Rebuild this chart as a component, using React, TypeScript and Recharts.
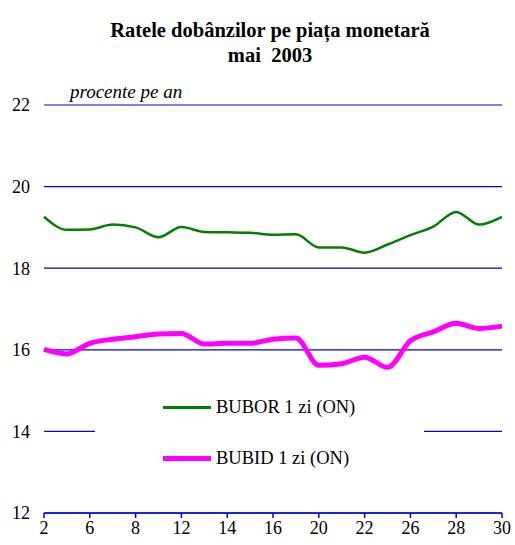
import { CartesianGrid, Line, LineChart, XAxis, YAxis } from "recharts";

// business days of May 2003
const days = [2, 5, 6, 7, 8, 9, 12, 13, 14, 15, 16, 19, 20, 21, 22, 23, 26, 27, 28, 29, 30];

const bubor = [
  19.26, 18.94, 18.95, 19.07, 19.0, 18.76, 19.01, 18.89, 18.88, 18.87, 18.82,
  18.83, 18.51, 18.51, 18.38, 18.58, 18.81, 19.02, 19.38, 19.07, 19.26,
];

const bubid = [
  16.01, 15.9, 16.16, 16.26, 16.32, 16.39, 16.4, 16.14, 16.16, 16.16, 16.26,
  16.29, 15.62, 15.66, 15.82, 15.57, 16.22, 16.44, 16.65, 16.52, 16.58,
];

const yTicks = [12, 14, 16, 18, 20, 22];

const data = days.map((day, i) => ({ day, bubor: bubor[i], bubid: bubid[i] }));

const serif = "Liberation Serif, DejaVu Serif, serif";
const tickStyle = { fontSize: 18, fill: "#000", fontFamily: serif };

export default function App() {
  return (
    <div style={{ position: "absolute", left: 0, top: 0, width: 515, height: 545, background: "#fff", fontFamily: serif }}>
      <div style={{ position: "absolute", left: 0, width: 540, top: 18, textAlign: "center", fontWeight: "bold", fontSize: 20.5, lineHeight: "25px" }}>
        Ratele dobânzilor pe piața monetară
        <br />
        mai&nbsp; 2003
      </div>
      <div style={{ position: "absolute", left: 70, top: 81, fontStyle: "italic", fontSize: 19 }}>procente pe an</div>

      <LineChart width={515} height={545} data={data} margin={{ top: 105, right: 13, bottom: 0, left: 0 }}>
        <CartesianGrid horizontal vertical={false} stroke="#0000ee" strokeWidth={1.2} />
        <XAxis
          dataKey="day"
          interval={1}
          height={32}
          tick={tickStyle}
          tickSize={5}
          tickMargin={3}
          axisLine={{ stroke: "#0000ee", strokeWidth: 1.5 }}
          tickLine={{ stroke: "#0000ee", strokeWidth: 1.5 }}
        />
        <YAxis
          domain={[12, 22]}
          ticks={yTicks}
          width={44}
          tick={tickStyle}
          axisLine={false}
          tickLine={false}
          tickSize={0}
          tickMargin={14}
        />
        <Line type="monotone" dataKey="bubor" stroke="#008000" strokeWidth={2.5} dot={false} isAnimationActive={false} />
        <Line type="monotone" dataKey="bubid" stroke="#ff00ff" strokeWidth={5} dot={false} isAnimationActive={false} />
      </LineChart>

      <div style={{ position: "absolute", left: 95, top: 386, width: 329, height: 96, background: "#fff" }}>
        <div style={{ position: "absolute", left: 68, top: 11, display: "flex", alignItems: "center", fontSize: 18.5 }}>
          <span style={{ display: "inline-block", width: 48, height: 3, background: "#008000", marginRight: 5 }} />
          BUBOR 1 zi (ON)
        </div>
        <div style={{ position: "absolute", left: 68, top: 62, display: "flex", alignItems: "center", fontSize: 18.5 }}>
          <span style={{ display: "inline-block", width: 48, height: 5, background: "#ff00ff", marginRight: 5 }} />
          BUBID 1 zi (ON)
        </div>
      </div>
    </div>
  );
}
